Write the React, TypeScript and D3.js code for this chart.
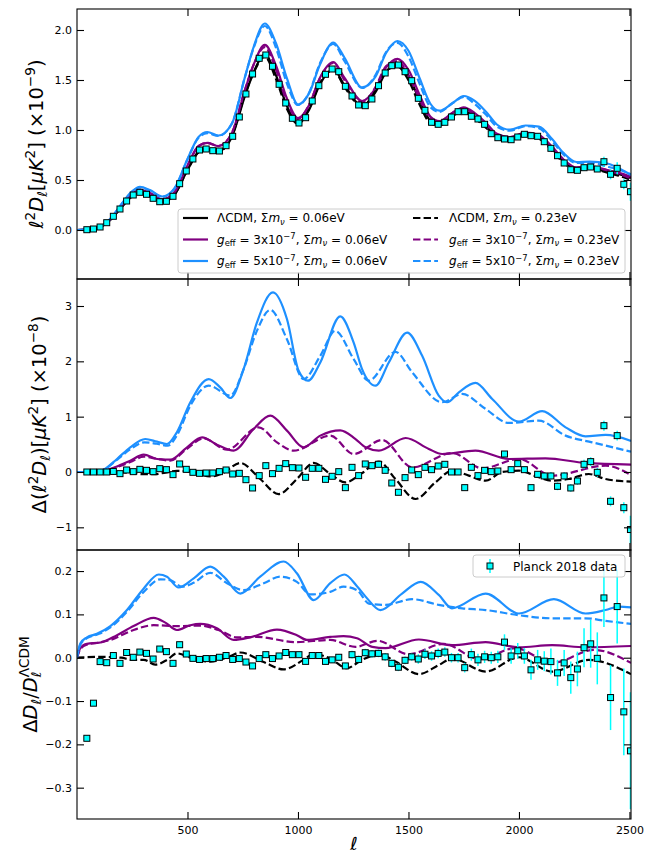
import { FC, useEffect, useRef } from "react";
import * as d3 from "d3";

type Pt = [number, number];
type Seg = { t: string; it?: boolean; sub?: boolean; sup?: boolean; dx?: number };

// ---- tick values ----
const xTicks = [500, 1000, 1500, 2000, 2500];
const yTicksTop = [0, 0.5, 1, 1.5, 2];
const yTicksMid = [-1, 0, 1, 2, 3];
const yTicksBot = [-0.3, -0.2, -0.1, 0, 0.1, 0.2];

// ---- Planck 2018 binned TT (bins of 30 in ell) ----
const binL = d3.range(44.5, 2505, 30);

const planckTop = [
  0.003, 0.01, 0.03, 0.073, 0.137, 0.21, 0.29, 0.35, 0.377, 0.357,
  0.317, 0.283, 0.287, 0.337, 0.463, 0.59, 0.71, 0.8, 0.81, 0.793,
  0.79, 0.843, 0.937, 1.13, 1.36, 1.56, 1.717, 1.75, 1.637, 1.457,
  1.27, 1.117, 1.07, 1.123, 1.29, 1.443, 1.557, 1.61, 1.583, 1.437,
  1.34, 1.25, 1.243, 1.31, 1.443, 1.57, 1.643, 1.65, 1.583, 1.493,
  1.317, 1.197, 1.077, 1.057, 1.077, 1.13, 1.183, 1.183, 1.137, 1.11,
  1.057, 0.963, 0.923, 0.91, 0.903, 0.93, 0.957, 0.943, 0.937, 0.883,
  0.817, 0.743, 0.67, 0.603, 0.597, 0.623, 0.63, 0.61, 0.683, 0.557,
  0.617, 0.457, 0.383,
];
const planckMid = [
  0, 0, 0, 0, 0.01, -0.03, 0.036, 0.006, 0.048, 0.03,
  0.006, 0.06, 0.042, -0.048, 0.145, 0.048, -0.006, -0.024, -0.018, -0.018,
  0.006, 0.036, -0.036, -0.024, -0.139, -0.289, -0.066, 0.114, -0.03, 0.066,
  0.151, 0.078, 0.072, -0.096, 0.066, 0.066, -0.133, -0.078, 0.006, -0.283,
  0.084, -0.066, 0.145, 0.114, 0.139, 0.03, -0.199, -0.367, -0.102, 0.036,
  -0.048, 0.084, 0.042, 0.108, 0.139, 0, 0, -0.283, 0.084, -0.066,
  0.03, 0.006, 0.018, 0.325, 0.042, 0.151, 0.042, -0.283, -0.042, -0.072,
  -0.072, -0.259, -0.072, -0.289, -0.163, 0.139, 0.187, -0.006, 0.837, -0.53,
  0.657, -0.645, -1.04,
];
const planckBot = [
  -0.186, -0.105, -0.009, -0.0115, 0.005, -0.013, 0.012, 0.001, 0.013, 0.01,
  -0.003, 0.02, 0.014, -0.013, 0.03, 0.0085, -0.0015, -0.004, -0.002, -0.002,
  0.001, 0.005, -0.004, -0.002, -0.01, -0.019, -0.002, 0.007, -0.002, 0.004,
  0.012, 0.007, 0.007, -0.0085, 0.005, 0.005, -0.0085, -0.005, 0.001, -0.019,
  0.007, -0.004, 0.0115, 0.009, 0.01, 0.002, -0.013, -0.022, -0.006, 0.002,
  -0.003, 0.008, 0.004, 0.01, 0.013, 0, 0, -0.023, 0.007, -0.005,
  0.002, 0, 0.002, 0.036, 0.004, 0.016, 0.004, -0.028, -0.005, -0.008,
  -0.009, -0.035, -0.012, -0.046, -0.026, 0.023, 0.032, -0.0015, 0.138, -0.092,
  0.118, -0.125, -0.215,
];
const errTop = [
  0.003, 0.003, 0.003, 0.003, 0.003, 0.003, 0.003, 0.003, 0.003, 0.003,
  0.003, 0.003, 0.003, 0.003, 0.003, 0.003, 0.003, 0.003, 0.003, 0.003,
  0.003, 0.003, 0.003, 0.003, 0.003, 0.003, 0.003, 0.003, 0.003, 0.003,
  0.003, 0.003, 0.003, 0.003, 0.003, 0.003, 0.003, 0.003, 0.003, 0.003,
  0.003, 0.003, 0.003, 0.003, 0.003, 0.003, 0.003, 0.003, 0.003, 0.003,
  0.003, 0.003, 0.003, 0.003, 0.003, 0.003, 0.003, 0.003, 0.003, 0.003,
  0.01, 0.01, 0.01, 0.01, 0.01, 0.01, 0.01, 0.01, 0.01, 0.01,
  0.02, 0.02, 0.02, 0.02, 0.02, 0.03, 0.03, 0.03, 0.05, 0.05,
  0.06, 0.05, 0.09,
];
const errMid = [
  0.02, 0.02, 0.02, 0.02, 0.02, 0.02, 0.02, 0.02, 0.02, 0.02,
  0.02, 0.02, 0.02, 0.02, 0.02, 0.02, 0.02, 0.02, 0.02, 0.02,
  0.02, 0.02, 0.02, 0.02, 0.02, 0.02, 0.02, 0.02, 0.02, 0.02,
  0.02, 0.02, 0.02, 0.02, 0.02, 0.02, 0.02, 0.02, 0.02, 0.02,
  0.03, 0.03, 0.03, 0.03, 0.03, 0.03, 0.03, 0.03, 0.03, 0.03,
  0.03, 0.03, 0.03, 0.03, 0.03, 0.03, 0.03, 0.03, 0.03, 0.03,
  0.05, 0.05, 0.05, 0.05, 0.05, 0.05, 0.05, 0.05, 0.05, 0.05,
  0.07, 0.07, 0.07, 0.07, 0.07, 0.08, 0.08, 0.08, 0.09, 0.09,
  0.09, 0.1, 0.25,
];
const errBot = [
  0.005, 0.005, 0.005, 0.005, 0.005, 0.005, 0.005, 0.005, 0.005, 0.005,
  0.005, 0.005, 0.005, 0.005, 0.005, 0.005, 0.005, 0.005, 0.005, 0.005,
  0.007, 0.007, 0.007, 0.007, 0.007, 0.007, 0.007, 0.007, 0.007, 0.007,
  0.007, 0.007, 0.007, 0.007, 0.007, 0.007, 0.007, 0.007, 0.007, 0.007,
  0.009, 0.009, 0.009, 0.009, 0.009, 0.009, 0.009, 0.009, 0.009, 0.009,
  0.011, 0.011, 0.011, 0.011, 0.011, 0.011, 0.011, 0.011, 0.014, 0.014,
  0.014, 0.014, 0.014, 0.018, 0.018, 0.018, 0.018, 0.023, 0.023, 0.023,
  0.03, 0.03, 0.03, 0.037, 0.04, 0.045, 0.055, 0.06, 0.067, 0.075,
  0.085, 0.1, 0.135,
];

// ---- top panel models, sampled at these ell ----
const gridL = [
  0, 50, 100, 150, 200, 250, 285, 330, 385, 440, 500, 550, 590, 640, 700, 760,
  800, 850, 900, 950, 1000, 1050, 1100, 1160, 1210, 1290, 1350, 1400, 1450, 1500,
  1550, 1600, 1640, 1700, 1750, 1800, 1850, 1900, 1960, 2030, 2090, 2150, 2200,
  2260, 2320, 2400, 2450, 2507,
];
const lcdm006 = [
  0, 0.004, 0.025, 0.1, 0.225, 0.34, 0.375, 0.34, 0.283, 0.35, 0.6, 0.78, 0.812, 0.79, 0.925, 1.34,
  1.58, 1.755, 1.55, 1.24, 1.07, 1.2, 1.46, 1.605, 1.45, 1.24, 1.375, 1.585, 1.655, 1.54,
  1.3, 1.09, 1.055, 1.14, 1.19, 1.13, 1.04, 0.935, 0.905, 0.95, 0.925, 0.81, 0.69,
  0.61, 0.62, 0.585, 0.56, 0.52,
];
const g3m006 = [
  0, 0.004, 0.026, 0.105, 0.238, 0.363, 0.405, 0.369, 0.306, 0.375, 0.645, 0.84, 0.872, 0.839, 0.964, 1.4,
  1.658, 1.851, 1.648, 1.315, 1.12, 1.248, 1.526, 1.679, 1.523, 1.29, 1.414, 1.63, 1.712, 1.601,
  1.353, 1.131, 1.088, 1.173, 1.227, 1.169, 1.073, 0.962, 0.929, 0.974, 0.95, 0.834, 0.71,
  0.627, 0.636, 0.6, 0.574, 0.533,
];
const g5m006 = [
  0, 0.004, 0.027, 0.11, 0.255, 0.388, 0.432, 0.399, 0.335, 0.414, 0.71, 0.93, 0.98, 0.945, 1.06, 1.53,
  1.835, 2.065, 1.87, 1.517, 1.255, 1.366, 1.657, 1.875, 1.725, 1.426, 1.531, 1.775, 1.89, 1.792,
  1.52, 1.26, 1.193, 1.27, 1.34, 1.291, 1.185, 1.055, 1.003, 1.045, 1.033, 0.91, 0.774,
  0.68, 0.684, 0.665, 0.62, 0.55,
];
const lcdm023 = [
  0, 0.004, 0.025, 0.1, 0.225, 0.338, 0.371, 0.336, 0.281, 0.352, 0.6, 0.776, 0.804, 0.785, 0.935, 1.352,
  1.577, 1.733, 1.512, 1.212, 1.06, 1.212, 1.47, 1.6, 1.432, 1.235, 1.392, 1.595, 1.635, 1.498,
  1.256, 1.065, 1.045, 1.142, 1.187, 1.117, 1.024, 0.93, 0.906, 0.95, 0.915, 0.794, 0.676,
  0.602, 0.616, 0.572, 0.544, 0.502,
];
const g3m023 = [
  0, 0.004, 0.026, 0.105, 0.237, 0.36, 0.401, 0.367, 0.305, 0.372, 0.642, 0.838, 0.872, 0.84, 0.967, 1.402,
  1.656, 1.828, 1.605, 1.28, 1.11, 1.25, 1.52, 1.67, 1.5, 1.276, 1.427, 1.641, 1.69, 1.55,
  1.312, 1.115, 1.086, 1.174, 1.22, 1.145, 1.047, 0.947, 0.925, 0.972, 0.935, 0.804, 0.688,
  0.614, 0.628, 0.596, 0.565, 0.515,
];
const g5m023 = [
  0, 0.004, 0.027, 0.11, 0.253, 0.384, 0.427, 0.393, 0.331, 0.41, 0.705, 0.922, 0.968, 0.94, 1.063, 1.53,
  1.825, 2.04, 1.825, 1.465, 1.25, 1.372, 1.67, 1.86, 1.69, 1.42, 1.547, 1.785, 1.872, 1.735,
  1.465, 1.225, 1.182, 1.27, 1.331, 1.26, 1.154, 1.035, 0.993, 1.04, 1.018, 0.89, 0.758,
  0.67, 0.674, 0.634, 0.605, 0.557,
];

// ---- middle panel: difference to LCDM 0.06eV, [ell, value] ----
const dG5m006: Pt[] = [[0, 0], [80, 0], [120, 0.04], [181, 0.235], [241, 0.446], [309, 0.596], [362, 0.548], [407, 0.506], [452, 0.717], [513, 1.26], [596, 1.68], [648, 1.53], [694, 1.337], [754, 1.86], [814, 2.7], [887, 3.247], [950, 2.765], [1003, 1.83], [1045, 1.65], [1101, 1.98], [1191, 2.813], [1252, 2.34], [1290, 1.86], [1351, 1.56], [1411, 1.98], [1494, 2.52], [1562, 2.1], [1637, 1.38], [1675, 1.26], [1728, 1.44], [1803, 1.61], [1879, 1.32], [2000, 0.91], [2105, 1.1], [2211, 0.807], [2301, 0.645], [2392, 0.669], [2507, 0.56]];
const dG5m023: Pt[] = [[0, 0], [80, 0], [120, 0.04], [181, 0.22], [241, 0.41], [305, 0.536], [360, 0.51], [410, 0.476], [452, 0.66], [513, 1.2], [596, 1.56], [694, 1.38], [754, 1.86], [814, 2.55], [875, 2.93], [950, 2.4], [1025, 1.68], [1101, 2.1], [1169, 2.55], [1252, 2.04], [1320, 1.65], [1441, 2.17], [1517, 1.8], [1652, 1.26], [1743, 1.41], [1849, 1.14], [1954, 0.886], [2090, 0.928], [2211, 0.657], [2331, 0.536], [2507, 0.367]];
const dG3m006: Pt[] = [[0, 0], [90, 0], [130, 0.03], [181, 0.1], [241, 0.205], [302, 0.313], [362, 0.235], [422, 0.223], [498, 0.446], [566, 0.627], [633, 0.494], [709, 0.386], [799, 0.777], [875, 1.018], [950, 0.747], [1025, 0.446], [1101, 0.657], [1191, 0.753], [1259, 0.6], [1306, 0.446], [1366, 0.386], [1487, 0.614], [1592, 0.416], [1652, 0.325], [1803, 0.386], [1954, 0.235], [2120, 0.247], [2301, 0.163], [2507, 0.133]];
const dG3m023: Pt[] = [[0, 0], [90, 0], [130, 0.03], [181, 0.09], [241, 0.18], [302, 0.277], [360, 0.24], [422, 0.205], [498, 0.42], [573, 0.608], [679, 0.404], [822, 0.807], [905, 0.536], [980, 0.386], [1146, 0.657], [1252, 0.325], [1381, 0.578], [1517, 0.084], [1698, 0.343], [1834, 0.066], [2000, 0.235], [2150, -0.066], [2392, 0.114], [2507, -0.054]];
const dLcdm023: Pt[] = [[0, 0], [150, 0], [250, -0.02], [300, -0.04], [354, -0.04], [400, -0.01], [452, 0.02], [520, 0], [603, -0.08], [660, -0.02], [739, 0.163], [829, -0.127], [912, -0.4], [995, -0.127], [1071, 0.163], [1146, -0.036], [1214, -0.187], [1290, -0.02], [1366, 0.187], [1441, -0.127], [1532, -0.488], [1622, -0.187], [1698, 0.024], [1773, -0.066], [1849, -0.157], [1924, 0], [2000, 0.024], [2090, -0.096], [2150, -0.157], [2226, -0.127], [2316, -0.036], [2392, -0.127], [2507, -0.175]];

// ---- bottom panel: ratio to LCDM 0.06eV ----
const rG5m006: Pt[] = [[0, 0], [15, 0.033], [45, 0.047], [90, 0.055], [151, 0.073], [226, 0.11], [302, 0.16], [370, 0.192], [407, 0.187], [460, 0.162], [528, 0.183], [603, 0.21], [664, 0.187], [739, 0.148], [829, 0.187], [935, 0.222], [995, 0.195], [1071, 0.133], [1146, 0.172], [1210, 0.192], [1267, 0.165], [1306, 0.141], [1373, 0.11], [1471, 0.148], [1555, 0.175], [1637, 0.145], [1697, 0.114], [1849, 0.148], [2000, 0.102], [2158, 0.135], [2301, 0.102], [2392, 0.11], [2452, 0.118], [2507, 0.116]];
const rG5m023: Pt[] = [[0, 0], [15, 0.03], [45, 0.045], [100, 0.055], [151, 0.07], [226, 0.106], [302, 0.152], [377, 0.181], [422, 0.179], [475, 0.164], [528, 0.173], [603, 0.196], [679, 0.172], [754, 0.156], [845, 0.172], [920, 0.187], [995, 0.175], [1056, 0.146], [1146, 0.152], [1206, 0.164], [1267, 0.156], [1321, 0.125], [1396, 0.122], [1517, 0.135], [1637, 0.122], [1743, 0.114], [1849, 0.11], [2000, 0.098], [2150, 0.091], [2301, 0.091], [2392, 0.085], [2507, 0.078]];
const rG3m006: Pt[] = [[0, 0], [15, 0.022], [45, 0.032], [106, 0.035], [181, 0.052], [256, 0.073], [347, 0.092], [400, 0.081], [452, 0.064], [513, 0.075], [558, 0.078], [633, 0.068], [709, 0.041], [784, 0.047], [905, 0.065], [995, 0.052], [1040, 0.041], [1146, 0.048], [1206, 0.05], [1267, 0.045], [1336, 0.025], [1396, 0.022], [1547, 0.042], [1698, 0.029], [1849, 0.036], [2000, 0.024], [2150, 0.029], [2301, 0.024], [2507, 0.027]];
const rG3m023: Pt[] = [[0, 0], [15, 0.02], [45, 0.03], [100, 0.035], [151, 0.041], [256, 0.064], [347, 0.075], [452, 0.073], [560, 0.074], [640, 0.064], [724, 0.047], [814, 0.048], [990, 0.036], [1146, 0.041], [1260, 0.025], [1360, 0.039], [1500, 0.008], [1660, 0.032], [1819, -0.003], [1985, 0.022], [2150, -0.012], [2340, 0.018], [2507, -0.012]];
const rLcdm023: Pt[] = [[0, 0], [100, 0.002], [200, 0], [250, -0.005], [302, -0.005], [354, -0.016], [407, -0.005], [452, 0.01], [520, -0.001], [603, -0.009], [694, 0.004], [739, 0.012], [845, -0.01], [935, -0.027], [1025, -0.005], [1071, 0.009], [1146, -0.002], [1221, -0.024], [1290, -0.005], [1366, 0.008], [1441, -0.009], [1547, -0.038], [1637, -0.017], [1698, -0.002], [1849, -0.032], [2000, 0.001], [2150, -0.032], [2316, -0.005], [2507, -0.038]];

const BLACK = "#000000";
const PURPLE = "#800080";
const BLUE = "#1e90ff";
const CYAN = "#00ffff";
const FONT = "DejaVu Sans, sans-serif";

const legendLabels: Seg[][] = [
  [{ t: "ΛCDM, Σ" }, { t: "m", it: true }, { t: "ν", it: true, sub: true }, { t: " = 0.06eV" }],
  [{ t: "g", it: true }, { t: "eff", sub: true }, { t: " = 3x10" }, { t: "−7", sup: true }, { t: ", Σ" }, { t: "m", it: true }, { t: "ν", it: true, sub: true }, { t: " = 0.06eV" }],
  [{ t: "g", it: true }, { t: "eff", sub: true }, { t: " = 5x10" }, { t: "−7", sup: true }, { t: ", Σ" }, { t: "m", it: true }, { t: "ν", it: true, sub: true }, { t: " = 0.06eV" }],
  [{ t: "ΛCDM, Σ" }, { t: "m", it: true }, { t: "ν", it: true, sub: true }, { t: " = 0.23eV" }],
  [{ t: "g", it: true }, { t: "eff", sub: true }, { t: " = 3x10" }, { t: "−7", sup: true }, { t: ", Σ" }, { t: "m", it: true }, { t: "ν", it: true, sub: true }, { t: " = 0.23eV" }],
  [{ t: "g", it: true }, { t: "eff", sub: true }, { t: " = 5x10" }, { t: "−7", sup: true }, { t: ", Σ" }, { t: "m", it: true }, { t: "ν", it: true, sub: true }, { t: " = 0.23eV" }],
];

const mathText = (text: any, segs: Seg[], size: number) => {
  let shift = 0;
  segs.forEach((s) => {
    const off = s.sub ? size * 0.22 : s.sup ? -size * 0.4 : 0;
    text.append("tspan")
      .attr("dy", off - shift)
      .attr("dx", s.dx ?? 0)
      .attr("font-size", s.sub || s.sup ? size * 0.7 : size)
      .attr("font-style", s.it ? "italic" : "normal")
      .text(s.t);
    shift = off;
  });
};

const zip = (ls: number[], vs: number[]): Pt[] => ls.map((l, i) => [l, vs[i]]);

const App: FC = () => {
  const svgRef = useRef<SVGSVGElement>(null);

  useEffect(() => {
    const svg = d3.select(svgRef.current);
    svg.selectAll("*").remove();

    const x = d3.scaleLinear().domain([0, 2507]).range([77, 631]);

    const panels = [
      {
        top: 9, bottom: 279, domain: [-0.49, 2.21], ticks: yTicksTop, fmt: d3.format(".1f"),
        curves: [
          { pts: zip(gridL, lcdm006), color: BLACK, dash: false },
          { pts: zip(gridL, g3m006), color: PURPLE, dash: false },
          { pts: zip(gridL, g5m006), color: BLUE, dash: false },
          { pts: zip(gridL, lcdm023), color: BLACK, dash: true },
          { pts: zip(gridL, g3m023), color: PURPLE, dash: true },
          { pts: zip(gridL, g5m023), color: BLUE, dash: true },
        ],
        data: planckTop, err: errTop,
        label: [{ t: "ℓ", it: true }, { t: "2", sup: true }, { t: "D", it: true }, { t: "ℓ", it: true, sub: true }, { t: "[" }, { t: "μK", it: true }, { t: "2", sup: true }, { t: "] (×10" }, { t: "−9", sup: true }, { t: ")" }] as Seg[],
        labelX: 42.5,
      },
      {
        top: 279, bottom: 550, domain: [-1.41, 3.488], ticks: yTicksMid, fmt: d3.format("d"),
        curves: [
          { pts: dG3m006, color: PURPLE, dash: false },
          { pts: dG5m006, color: BLUE, dash: false },
          { pts: dLcdm023, color: BLACK, dash: true },
          { pts: dG3m023, color: PURPLE, dash: true },
          { pts: dG5m023, color: BLUE, dash: true },
        ],
        data: planckMid, err: errMid,
        label: [{ t: "Δ(" }, { t: "ℓ", it: true }, { t: "2", sup: true }, { t: "D", it: true }, { t: "ℓ", it: true, sub: true }, { t: ")[" }, { t: "μK", it: true }, { t: "2", sup: true }, { t: "] (×10" }, { t: "−8", sup: true }, { t: ")" }] as Seg[],
        labelX: 46,
      },
      {
        top: 550, bottom: 819, domain: [-0.3723, 0.2486], ticks: yTicksBot, fmt: d3.format(".1f"),
        curves: [
          { pts: rG3m006, color: PURPLE, dash: false },
          { pts: rG5m006, color: BLUE, dash: false },
          { pts: rLcdm023, color: BLACK, dash: true },
          { pts: rG3m023, color: PURPLE, dash: true },
          { pts: rG5m023, color: BLUE, dash: true },
        ],
        data: planckBot, err: errBot,
        label: [{ t: "Δ" }, { t: "D", it: true }, { t: "ℓ", it: true, sub: true }, { t: "/" }, { t: "D", it: true }, { t: "ℓ", it: true, sub: true }, { t: "ΛCDM", sup: true, dx: -5.7 }] as Seg[],
        labelX: 37,
      },
    ];

    panels.forEach((p, k) => {
      const y = d3.scaleLinear().domain(p.domain).range([p.bottom, p.top]);
      const clipId = `panel-clip-${k}`;
      svg.append("clipPath").attr("id", clipId)
        .append("rect").attr("x", 77).attr("y", p.top).attr("width", 554).attr("height", p.bottom - p.top);
      const g = svg.append("g").attr("clip-path", `url(#${clipId})`);

      const line = d3.line<Pt>().x((d) => x(d[0])).y((d) => y(d[1])).curve(d3.curveMonotoneX);
      p.curves.forEach((c) => {
        g.append("path")
          .attr("d", line(c.pts))
          .attr("fill", "none")
          .attr("stroke", c.color)
          .attr("stroke-width", 2.2)
          .attr("stroke-dasharray", c.dash ? "7.4,3.2" : null);
      });

      const pts = p.data.map((v, i) => ({ l: binL[i], v, e: p.err[i] }));
      g.selectAll(".err").data(pts).join("line")
        .attr("x1", (d) => x(d.l)).attr("x2", (d) => x(d.l))
        .attr("y1", (d) => y(d.v - d.e)).attr("y2", (d) => y(d.v + d.e))
        .attr("stroke", CYAN).attr("stroke-width", 1.5);
      g.selectAll(".pt").data(pts).join("rect")
        .attr("x", (d) => x(d.l) - 3).attr("y", (d) => y(d.v) - 3)
        .attr("width", 6).attr("height", 6)
        .attr("fill", CYAN).attr("stroke", BLACK).attr("stroke-width", 1);

      // axes with inward ticks on all four sides
      const style = (a: any) => {
        a.select(".domain").remove();
        a.selectAll("line").attr("stroke", BLACK).attr("stroke-width", 1.1);
        a.attr("font-family", FONT).attr("font-size", 11);
        a.selectAll("text").attr("fill", BLACK);
      };
      svg.append("g").attr("transform", "translate(77,0)")
        .call(d3.axisLeft(y).tickValues(p.ticks).tickSize(-7).tickPadding(5).tickFormat((d: any) => p.fmt(d)))
        .call(style);
      svg.append("g").attr("transform", "translate(631,0)")
        .call(d3.axisRight(y).tickValues(p.ticks).tickSize(-7).tickFormat(() => ""))
        .call(style);
      svg.append("g").attr("transform", `translate(0,${p.top})`)
        .call(d3.axisTop(x).tickValues(xTicks).tickSize(-7).tickFormat(() => ""))
        .call(style);
      svg.append("g").attr("transform", `translate(0,${p.bottom})`)
        .call(d3.axisBottom(x).tickValues(xTicks).tickSize(-7).tickPadding(7.5)
          .tickFormat((d: any) => (k === 2 ? String(d) : "")))
        .call(style);

      svg.append("rect")
        .attr("x", 77).attr("y", p.top).attr("width", 554).attr("height", p.bottom - p.top)
        .attr("fill", "none").attr("stroke", BLACK).attr("stroke-width", 1.1);

      const lab = svg.append("text")
        .attr("transform", `translate(${p.labelX},${(p.top + p.bottom) / 2}) rotate(-90)`)
        .attr("text-anchor", "middle")
        .attr("font-family", FONT)
        .style("white-space", "pre");
      mathText(lab, p.label, 19.5);
    });

    // x label
    svg.append("text")
      .attr("x", 354).attr("y", 850)
      .attr("text-anchor", "middle")
      .attr("font-family", FONT).attr("font-size", 18).attr("font-style", "italic")
      .text("ℓ");

    // legend of the top panel
    const leg = svg.append("g");
    leg.append("rect")
      .attr("x", 178).attr("y", 209).attr("width", 447).attr("height", 64).attr("rx", 3)
      .attr("fill", "#ffffff").attr("fill-opacity", 0.8).attr("stroke", "#cccccc");
    const styles = [
      { color: BLACK, dash: false }, { color: PURPLE, dash: false }, { color: BLUE, dash: false },
      { color: BLACK, dash: true }, { color: PURPLE, dash: true }, { color: BLUE, dash: true },
    ];
    legendLabels.forEach((segs, i) => {
      const col = Math.floor(i / 3);
      const row = i % 3;
      const yy = 218 + row * 21.5;
      const hx = col === 0 ? 183 : 413;
      const tx = col === 0 ? 217 : 449;
      leg.append("line")
        .attr("x1", hx).attr("x2", hx + 25).attr("y1", yy).attr("y2", yy)
        .attr("stroke", styles[i].color).attr("stroke-width", 2.2)
        .attr("stroke-dasharray", styles[i].dash ? "7.4,3.2" : null);
      const t = leg.append("text")
        .attr("x", tx).attr("y", yy + 4.3)
        .attr("font-family", FONT).attr("fill", BLACK)
        .style("white-space", "pre");
      mathText(t, segs, 12);
    });

    // legend of the bottom panel
    const leg2 = svg.append("g");
    leg2.append("rect")
      .attr("x", 473).attr("y", 555).attr("width", 152).attr("height", 22).attr("rx", 3)
      .attr("fill", "#ffffff").attr("fill-opacity", 0.8).attr("stroke", "#cccccc");
    leg2.append("line")
      .attr("x1", 490).attr("x2", 490).attr("y1", 559).attr("y2", 573)
      .attr("stroke", CYAN).attr("stroke-width", 1.5);
    leg2.append("rect")
      .attr("x", 487).attr("y", 563).attr("width", 6).attr("height", 6)
      .attr("fill", CYAN).attr("stroke", BLACK).attr("stroke-width", 1);
    leg2.append("text")
      .attr("x", 513).attr("y", 570.5)
      .attr("font-family", FONT).attr("font-size", 12).attr("fill", BLACK)
      .text("Planck 2018 data");
  }, []);

  return (
    <svg
      ref={svgRef}
      width={655}
      height={855}
      style={{ position: "absolute", left: 0, top: 0, background: "#fff" }}
    />
  );
};

export default App;
